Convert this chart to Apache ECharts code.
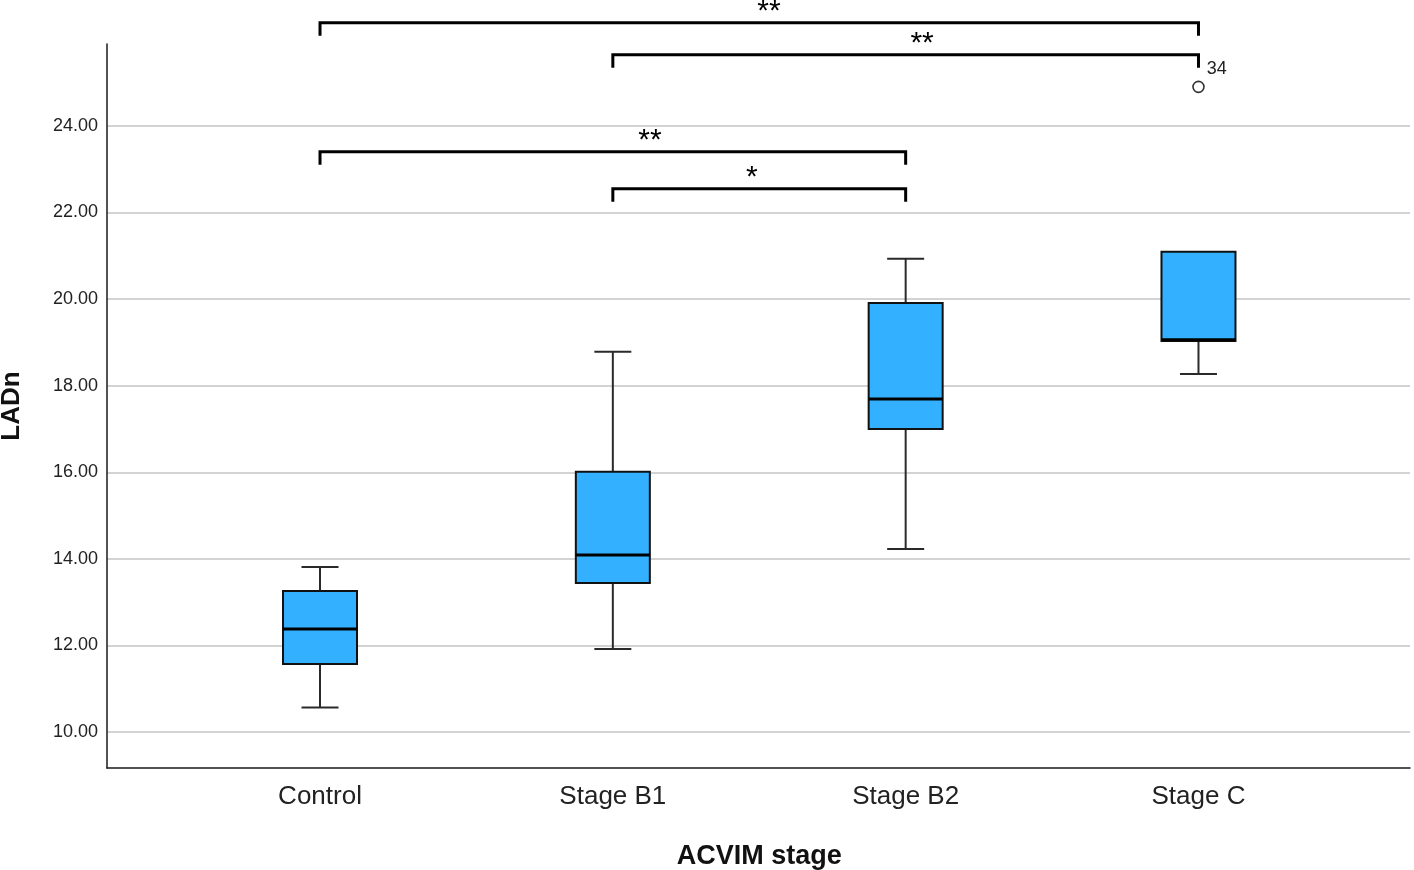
<!DOCTYPE html>
<html><head><meta charset="utf-8">
<script src="https://cdn.jsdelivr.net/npm/echarts@6/dist/echarts.min.js"></script>
<style>html,body{margin:0;padding:0;background:#fff}#c{width:1414px;height:870px}</style>
</head><body><div id="c"></div>
<script>
const categories = ['Control', 'Stage B1', 'Stage B2', 'Stage C'];
const whiskerLow  = [10.57, 11.92, 14.23, 18.27];
const q1          = [11.57, 13.44, 17.00, 19.03];
const median      = [12.38, 14.09, 17.69, 19.06];
const q3          = [13.26, 16.01, 19.91, 21.09];
const whiskerHigh = [13.81, 18.78, 20.93, 21.09];
const outlierCat = [3];
const outlierVal = [24.90];
const outlierLabel = ['34'];
const bracketFrom = [0, 1, 0, 1];
const bracketTo   = [3, 3, 2, 2];
const bracketY    = [26.38, 25.64, 23.40, 22.55];
const bracketText = ['**', '**', '**', '*'];
const bracketTextAt = [1.533, 2.056, 1.127, 1.475];
const yMin = 9.17, yMax = 25.89;

const FONT = 'Liberation Sans, Arial, sans-serif';
const boxData = categories.map((c, i) => [i, whiskerLow[i], q1[i], median[i], q3[i], whiskerHigh[i]]);
const bracketData = bracketFrom.map((f, i) => [f, bracketTo[i], bracketY[i]]);
const outlierData = outlierCat.map((c, i) => [c, outlierVal[i]]);

const chart = echarts.init(document.getElementById('c'));
chart.setOption({
  animation: false,
  backgroundColor: '#fff',
  grid: [
    {left: 107, right: 4, top: 44, bottom: 102, outerBoundsMode: 'none'},
    {left: 173.6, right: 69.1, top: 44, bottom: 102, outerBoundsMode: 'none'}
  ],
  xAxis: [
    {gridIndex: 0, type: 'value', min: 0, max: 1,
     axisLine: {show: true, onZero: false, lineStyle: {color: '#1a1a1a', width: 1.5}},
     axisTick: {show: false}, axisLabel: {show: false}, splitLine: {show: false}},
    {gridIndex: 1, type: 'category', data: categories,
     axisLine: {show: false}, axisTick: {show: false},
     axisLabel: {show: true, fontSize: 26, color: '#222', fontFamily: FONT, margin: 16},
     name: 'ACVIM stage', nameLocation: 'middle', nameGap: 75,
     nameTextStyle: {fontSize: 27, fontWeight: 'bold', color: '#111', fontFamily: FONT}}
  ],
  yAxis: [
    {gridIndex: 0, type: 'value', min: yMin, max: yMax, splitNumber: 8,
     axisLine: {show: true, lineStyle: {color: '#1a1a1a', width: 1.5}},
     axisTick: {show: false},
     axisLabel: {show: true, showMinLabel: false, showMaxLabel: false, fontSize: 18, color: '#222', fontFamily: FONT, margin: 9,
                 formatter: v => v.toFixed(2)},
     splitLine: {show: true, showMinLine: false, showMaxLine: false, lineStyle: {color: '#c4c4c4', width: 1.5}},
     name: 'LADn', nameLocation: 'middle', nameGap: 82,
     nameTextStyle: {fontSize: 26, fontWeight: 'bold', color: '#111', fontFamily: FONT}},
    {gridIndex: 1, type: 'value', min: yMin, max: yMax, show: false}
  ],
  series: [
    {
      type: 'custom', xAxisIndex: 1, yAxisIndex: 1, data: boxData,
      encode: {x: 0, y: [1, 2, 3, 4, 5]},
      renderItem: function (params, api) {
        const x = api.value(0);
        const pLow = api.coord([x, api.value(1)]);
        const pQ1 = api.coord([x, api.value(2)]);
        const pMed = api.coord([x, api.value(3)]);
        const pQ3 = api.coord([x, api.value(4)]);
        const pHigh = api.coord([x, api.value(5)]);
        const cx = pLow[0];
        const hw = 37, cw = 18.5;
        const wStyle = {stroke: '#2a2a2a', lineWidth: 2};
        const ch = [];
        ch.push({type: 'line', shape: {x1: cx, y1: pQ1[1], x2: cx, y2: pLow[1]}, style: wStyle});
        ch.push({type: 'line', shape: {x1: cx - cw, y1: pLow[1], x2: cx + cw, y2: pLow[1]}, style: wStyle});
        if (api.value(5) > api.value(4)) {
          ch.push({type: 'line', shape: {x1: cx, y1: pQ3[1], x2: cx, y2: pHigh[1]}, style: wStyle});
          ch.push({type: 'line', shape: {x1: cx - cw, y1: pHigh[1], x2: cx + cw, y2: pHigh[1]}, style: wStyle});
        }
        ch.push({type: 'rect', shape: {x: cx - hw, y: pQ3[1], width: 2 * hw, height: pQ1[1] - pQ3[1]},
                 style: {fill: '#33b0ff', stroke: '#111', lineWidth: 2}});
        ch.push({type: 'line', shape: {x1: cx - hw, y1: pMed[1], x2: cx + hw, y2: pMed[1]},
                 style: {stroke: '#000', lineWidth: 3}});
        return {type: 'group', children: ch};
      }
    },
    {
      type: 'scatter', xAxisIndex: 1, yAxisIndex: 1, data: outlierData,
      symbol: 'circle', symbolSize: 11,
      itemStyle: {color: '#fff', borderColor: '#333', borderWidth: 1.6, opacity: 1},
      label: {show: true, position: 'right', distance: 5, offset: [-3, -18],
              formatter: p => outlierLabel[p.dataIndex], fontSize: 18, color: '#222', fontFamily: FONT}
    },
    {
      type: 'custom', xAxisIndex: 1, yAxisIndex: 1, data: bracketData, clip: false,
      encode: {x: [0, 1], y: 2},
      renderItem: function (params, api) {
        const a = api.coord([api.value(0), api.value(2)]);
        const b = api.coord([api.value(1), api.value(2)]);
        const c0 = api.coord([0, api.value(2)])[0];
        const c1 = api.coord([1, api.value(2)])[0];
        const tx = c0 + bracketTextAt[params.dataIndex] * (c1 - c0);
        const t = 13;
        return {type: 'group', children: [
          {type: 'polyline', shape: {points: [[a[0], a[1] + t], [a[0], a[1]], [b[0], b[1]], [b[0], b[1] + t]]},
           style: {stroke: '#000', lineWidth: 3, fill: null}},
          {type: 'text', style: {text: bracketText[params.dataIndex], x: tx, y: a[1] - 11,
            align: 'center', verticalAlign: 'middle', font: '30px ' + FONT, fill: '#000'}}
        ]};
      }
    }
  ]
});
</script>
</body></html>
